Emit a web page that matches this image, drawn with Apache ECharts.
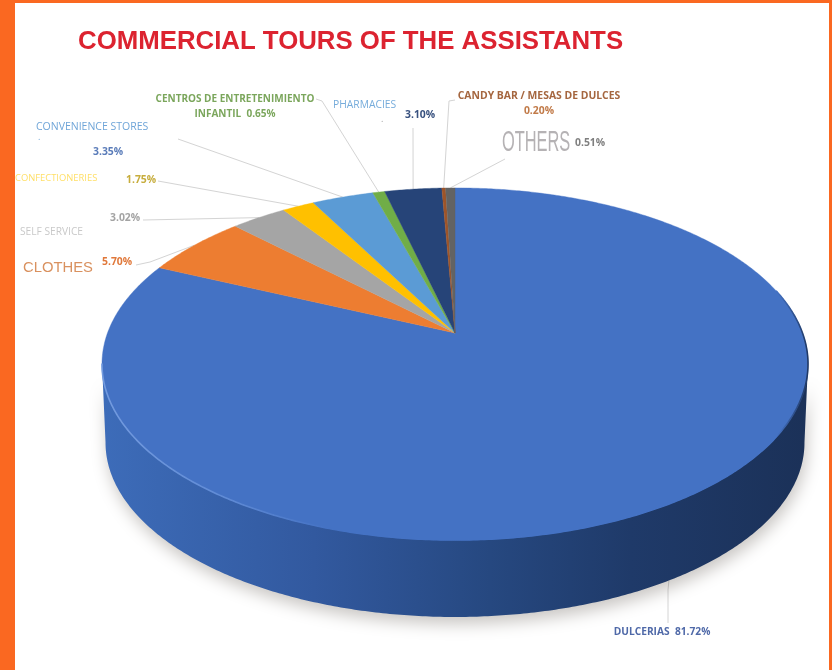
<!DOCTYPE html>
<html>
<head>
<meta charset="utf-8">
<style>html,body{margin:0;padding:0;background:#fff}#chart{width:832px;height:670px}</style>
<script src="https://cdn.jsdelivr.net/npm/echarts@6/dist/echarts.min.js"></script>
</head>
<body>
<div id="chart"></div>
<script>
// Share of commercial tours per business type, in percent, clockwise from 12 o'clock.
const categories = ['DULCERIAS', 'CLOTHES', 'SELF SERVICE', 'CONFECTIONERIES', 'CONVENIENCE STORES',
  'CENTROS DE ENTRETENIMIENTO INFANTIL', 'PHARMACIES', 'CANDY BAR / MESAS DE DULCES', 'OTHERS'];
const shares = [81.72, 5.70, 3.02, 1.75, 3.35, 0.65, 3.10, 0.20, 0.51];
const sliceColors = ['#4472c4', '#ed7d31', '#a5a5a5', '#ffc000', '#5b9bd5', '#70ad47', '#264478', '#9e5428', '#636363'];
const titleText = 'COMMERCIAL TOURS OF THE ASSISTANTS';

// Perspective disc: centre, radial scale, foreshortening and tilt.
const disc = { cx: 455, cy: 333, scale: 347.5, foreshorten: 170.6, tilt: 0.176 };
const depth = { drop: 79, shrink: 0.99 };
const wallStops = [[0, '#3d6cb9'], [0.3, '#32599f'], [0.55, '#264880'], [0.75, '#1f3a69'], [1, '#1b3158']];
const rimStops = [[0, '#739bdf'], [0.18, '#5f8ad5'], [0.32, '#4472c4'], [0.955, '#4472c4'], [1, '#1f3864']];

// Angle range of the side wall that can be seen from the viewpoint.
const wallFrom = 100, wallTo = 260;

// Label layout: text pieces anchored per category index.
const labelLayout = [
  { i: 0, parts: [{ x: 662, y: 632, align: 'center', size: 10.2, weight: 'bold', color: '#4f69a8', text: v => 'DULCERIAS  ' + v }] },
  { i: 1, parts: [
    { x: 23, y: 268, size: 14.8, weight: 'normal', color: '#d9915f', text: () => 'CLOTHES', font: 'Liberation Sans' },
    { x: 102, y: 262, size: 10.4, weight: 'bold', color: '#e0783a', text: v => v }] },
  { i: 2, parts: [
    { x: 20, y: 232, size: 10.2, weight: 'normal', color: '#c9c9c9', text: () => 'SELF SERVICE' },
    { x: 110, y: 218, size: 10.4, weight: 'bold', color: '#a3a3a3', text: v => v }] },
  { i: 3, parts: [
    { x: 15, y: 178, size: 9.4, weight: 'normal', color: '#ffdf66', text: () => 'CONFECTIONERIES' },
    { x: 126, y: 180, size: 10.4, weight: 'bold', color: '#c7ad3d', text: v => v }] },
  { i: 4, parts: [
    { x: 36, y: 127, size: 10.5, weight: 'normal', color: '#6fa5d8', text: () => 'CONVENIENCE STORES' },
    { x: 38, y: 137, size: 9, weight: 'normal', color: '#6fa5d8', text: () => '.' },
    { x: 93, y: 152, size: 10.4, weight: 'bold', color: '#5a7cb9', text: v => v }] },
  { i: 5, parts: [
    { x: 235, y: 99, align: 'center', size: 10, weight: 'bold', color: '#7ba65c', text: () => 'CENTROS DE ENTRETENIMIENTO' },
    { x: 235, y: 114, align: 'center', size: 10, weight: 'bold', color: '#7ba65c', text: v => 'INFANTIL  ' + v }] },
  { i: 6, parts: [
    { x: 333, y: 105, size: 10.3, weight: 'normal', color: '#76acdb', text: () => 'PHARMACIES' },
    { x: 381, y: 119, size: 9, weight: 'normal', color: '#a0a0a0', text: () => '.' },
    { x: 405, y: 115, size: 10.4, weight: 'bold', color: '#38517f', text: v => v }] },
  { i: 7, parts: [
    { x: 539, y: 96, align: 'center', size: 10.4, weight: 'bold', color: '#a5663f', text: () => 'CANDY BAR / MESAS DE DULCES' },
    { x: 539, y: 111, align: 'center', size: 10.4, weight: 'bold', color: '#c17a48', text: v => v }] },
  { i: 8, parts: [
    { x: 502, y: 143, size: 29, weight: 'normal', color: '#b5b2b4', text: () => 'OTHERS', font: 'Liberation Sans Narrow', condense: 0.565 },
    { x: 575, y: 143, size: 10.4, weight: 'bold', color: '#7f7f7f', text: v => v }] }
];

// Leader paths run from the label side to the rim point of each slice.
const leaderPaths = [
  [[668, 623], [668, 590]],
  [[136, 265], [150, 262]],
  [[143, 220]],
  [[158, 181]],
  [[178, 139]],
  [[316, 99], [322, 101]],
  [[413, 128]],
  [[455, 100], [449, 101]],
  [[505, 159]]
];

const percentText = v => v.toFixed(2) + '%';

// Maps a clockwise angle in degrees on the disc to screen space; h is 0 on top, 1 at the base.
function project(deg, h) {
  const a = deg * Math.PI / 180;
  const u = Math.sin(a), v = Math.cos(a);
  const w = 1 + disc.tilt * v;
  const k = h ? depth.shrink : 1;
  return [
    disc.cx + disc.scale * k * u / w,
    disc.cy + (h ? depth.drop : 0) - disc.foreshorten * k * v / w
  ];
}

function arcPoints(from, to, h) {
  const n = Math.max(2, Math.ceil(Math.abs(to - from) * 2));
  const pts = [];
  for (let i = 0; i <= n; i++) pts.push(project(from + (to - from) * i / n, h));
  return pts;
}

const total = shares.reduce((a, b) => a + b, 0);
const sliceAngles = [];
shares.reduce((acc, s) => {
  const next = acc + s / total * 360;
  sliceAngles.push([acc, next]);
  return next;
}, 0);

const hGradient = stops => {
  const left = project(wallTo, 0)[0], right = project(wallFrom, 0)[0];
  return new echarts.graphic.LinearGradient(left, 0, right, 0,
    stops.map(s => ({ offset: s[0], color: s[1] })), true);
};

function renderSlice(params, api) {
  const idx = params.dataIndex;
  const [a0, a1] = sliceAngles[idx];
  const children = [];
  // Side wall for the visible part of the slice, with its soft ground shadow.
  const w0 = Math.max(a0, wallFrom), w1 = Math.min(a1, wallTo);
  if (w1 > w0) {
    children.push({
      type: 'polygon',
      shape: { points: arcPoints(w0, w1, 0).concat(arcPoints(w1, w0, 1)) },
      style: {
        fill: hGradient(wallStops),
        shadowBlur: 16, shadowOffsetY: 7, shadowOffsetX: 2,
        shadowColor: 'rgba(60,50,40,0.28)'
      }
    });
  }
  // Top face of the slice.
  children.push({
    type: 'polygon',
    shape: { points: [[disc.cx, disc.cy]].concat(arcPoints(a0, a1, 0)) },
    style: { fill: sliceColors[idx], stroke: sliceColors[idx], lineWidth: 0.4 }
  });
  // Lit bevel running along the front rim, darkening towards the right edge.
  if (w1 > w0) {
    children.push({
      type: 'polyline',
      shape: { points: arcPoints(Math.max(a0, 75), Math.min(a1, wallTo), 0) },
      style: { fill: null, stroke: hGradient(rimStops), lineWidth: 1.6 }
    });
  }
  return { type: 'group', children };
}

function renderLeader(params, api) {
  const idx = params.dataIndex;
  const [a0, a1] = sliceAngles[idx];
  const end = project((a0 + a1) / 2, 0);
  return {
    type: 'polyline',
    shape: { points: leaderPaths[idx].concat([end]) },
    style: { fill: null, stroke: '#d4d4d4', lineWidth: 1 }
  };
}

// Labels are real text, with value strings formatted from the shares.
const labelGraphics = [];
labelLayout.forEach(entry => {
  entry.parts.forEach(p => {
    const el = {
      type: 'text',
      x: p.x, y: p.y,
      z: 10,
      style: {
        text: p.text(percentText(shares[entry.i])),
        fill: p.color,
        font: `${p.weight} ${p.size}px "${p.font || 'Open Sans'}", sans-serif`,
        textAlign: p.align || 'left',
        textVerticalAlign: 'middle'
      }
    };
    if (p.condense) { el.scaleX = p.condense; }
    labelGraphics.push(el);
  });
});

// Orange frame on the left, top and right edges.
const frameColor = '#fa6821';
const frame = [[0, 0, 15, 670], [0, 0, 832, 3], [829, 0, 3, 670]].map(r => ({
  type: 'rect', z: 20, shape: { x: r[0], y: r[1], width: r[2], height: r[3] }, style: { fill: frameColor }
}));

const chart = echarts.init(document.getElementById('chart'), null, { renderer: 'canvas' });
chart.setOption({
  animation: false,
  backgroundColor: '#ffffff',
  title: {
    text: titleText, left: 73, top: 24,
    textStyle: { color: '#dc2330', fontFamily: 'Liberation Sans', fontWeight: 'bold', fontSize: 25.8 }
  },
  graphic: { elements: frame.concat(labelGraphics) },
  series: [
    {
      name: 'leaders', type: 'custom', coordinateSystem: 'none', z: 1, silent: true,
      renderItem: renderLeader,
      data: categories.map((name, i) => ({ name, value: [shares[i]] }))
    },
    {
      name: 'tours', type: 'custom', coordinateSystem: 'none', z: 2,
      renderItem: renderSlice,
      data: categories.map((name, i) => ({ name, value: [shares[i]] }))
    }
  ]
});
</script>
</body>
</html>
